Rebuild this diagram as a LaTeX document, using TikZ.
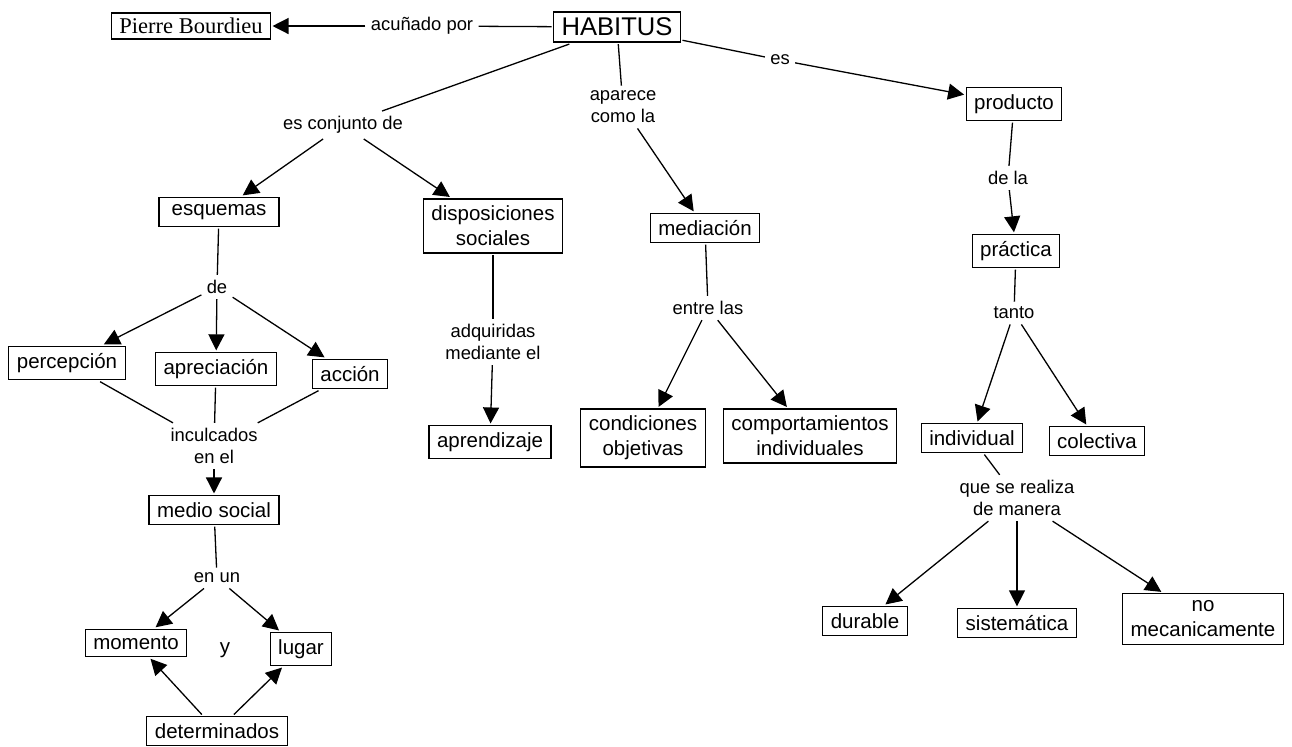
\documentclass[tikz,border=0pt]{standalone}
\usepackage{fontspec}
\setmainfont{Liberation Sans}
\newfontfamily\bookfont{Liberation Serif}
\usetikzlibrary{arrows.meta}

\begin{document}
\begin{tikzpicture}[x=0.5pt,y=-0.5pt,
		concept/.style={draw,line width=0.6pt,inner xsep=4pt,inner ysep=3.5pt,outer sep=1pt,align=center,font=\fontsize{10.25}{12.5}\selectfont},
		phrase/.style={inner sep=2.5pt,align=center,font=\fontsize{9.2}{11}\selectfont},
		link/.style={line width=0.65pt},
		arrow/.style={line width=0.65pt,-{Triangle[length=8pt,width=8pt]}}]
			\useasboundingbox (0,0) rectangle (1292,746);
			% concepts
			\node[concept,font=\fontsize{12.8}{15}\selectfont,inner ysep=3pt] (habitus) at (617,27) {HABITUS};
			\node[concept,font=\bookfont\fontsize{11.25}{13}\selectfont,inner ysep=2.5pt] (bourdieu) at (191,26) {Pierre Bourdieu};
			\node[concept,minimum width=60pt] (esquemas) at (219,212) {esquemas};
			\node[concept] (disposiciones) at (493,226) {disposiciones\\sociales};
			\node[concept] (mediacion) at (705,228) {mediación};
			\node[concept] (producto) at (1014,104) {producto};
			\node[concept] (practica) at (1016,251) {práctica};
			\node[concept] (percepcion) at (67,363) {percepción};
			\node[concept] (apreciacion) at (216,369) {apreciación};
			\node[concept] (accion) at (350,374) {acción};
			\node[concept] (aprendizaje) at (490,442) {aprendizaje};
			\node[concept] (condiciones) at (643,438) {condiciones\\objetivas};
			\node[concept] (comportamientos) at (810,436) {comportamientos\\individuales};
			\node[concept] (individual) at (972,438) {individual};
			\node[concept] (colectiva) at (1097,441) {colectiva};
			\node[concept] (medio) at (214,510) {medio social};
			\node[concept] (momento) at (136,643) {momento};
			\node[concept] (lugar) at (301,649) {lugar};
			\node[concept] (determinados) at (217,731) {determinados};
			\node[concept] (durable) at (865,621) {durable};
			\node[concept] (sistematica) at (1017,623) {sistemática};
			\node[concept,minimum width=79pt] (nomecanica) at (1203,619) {no\\mecanicamente};
			\node[font=\fontsize{10.25}{12.5}\selectfont] (y) at (225,650) {y};
			
			% linking phrases
			\node[phrase] (acunado) at (422,26) {acuñado por};
			\node[phrase] (conjunto) at (343,125) {es conjunto de};
			\node[phrase] (aparece) at (623,107) {aparece\\como la};
			\node[phrase] (es) at (780,60) {es};
			\node[phrase] (dela) at (1008,178) {de la};
			\node[phrase] (de) at (217,287) {de};
			\node[phrase] (inculcados) at (214,446) {inculcados\\en el};
			\node[phrase] (enun) at (217,578) {en un};
			\node[phrase] (adquiridas) at (493,342) {adquiridas\\mediante el};
			\node[phrase] (entre) at (708,308) {entre las};
			\node[phrase] (tanto) at (1014,313) {tanto};
			\node[phrase] (realiza) at (1017,498) {que se realiza\\de manera};
			
			% connectors
			\draw[link] (habitus) -- (acunado);
			\draw[arrow] (acunado) -- (bourdieu);
			\draw[link] (habitus) -- (conjunto);
			\draw[arrow] (conjunto) -- (esquemas);
			\draw[arrow] (conjunto) -- (disposiciones);
			\draw[link] (habitus) -- (aparece);
			\draw[arrow] (aparece) -- (mediacion);
			\draw[link] (habitus) -- (es);
			\draw[arrow] (es) -- (producto);
			\draw[link] (producto) -- (dela);
			\draw[arrow] (dela) -- (practica);
			
			\draw[link] (esquemas) -- (de);
			\draw[arrow] (de) -- (percepcion);
			\draw[arrow] (de) -- (apreciacion);
			\draw[arrow] (de) -- (accion);
			\draw[link] (percepcion) -- (inculcados);
			\draw[link] (apreciacion) -- (inculcados);
			\draw[link] (accion) -- (inculcados);
			\draw[arrow] (inculcados) -- (medio);
			\draw[link] (medio) -- (enun);
			\draw[arrow] (enun) -- (momento);
			\draw[arrow] (enun) -- (lugar);
			\draw[arrow] (determinados) -- (momento);
			\draw[arrow] (determinados) -- (lugar);
			
			\draw[link] (disposiciones) -- (adquiridas);
			\draw[arrow] (adquiridas) -- (aprendizaje);
			
			\draw[link] (mediacion) -- (entre);
			\draw[arrow] (entre) -- (condiciones);
			\draw[arrow] (entre) -- (comportamientos);
			
			\draw[link] (practica) -- (tanto);
			\draw[arrow] (tanto) -- (individual);
			\draw[arrow] (tanto) -- (colectiva);
			\draw[link] (individual) -- (realiza);
			\draw[arrow] (realiza) -- (durable);
			\draw[arrow] (realiza) -- (sistematica);
			\draw[arrow] (realiza) -- (nomecanica);
		\end{tikzpicture}
\end{document}
